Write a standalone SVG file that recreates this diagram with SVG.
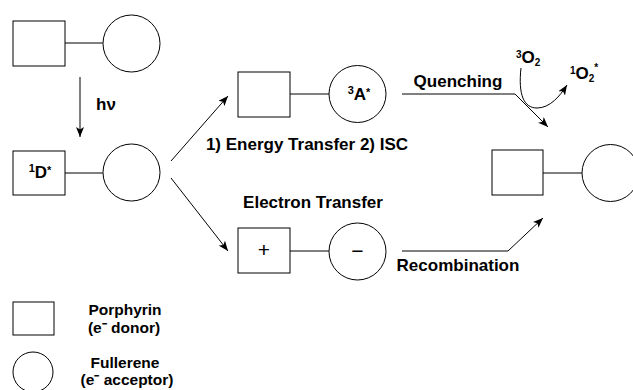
<svg xmlns="http://www.w3.org/2000/svg" width="633" height="390" viewBox="0 0 633 390">
<style>
.sh{fill:#fff;stroke:#000;stroke-width:1}
.ln{fill:none;stroke:#000;stroke-width:1}
.ar{fill:none;stroke:#000;stroke-width:1;marker-end:url(#ah)}
.t{font-family:"Liberation Sans",Arial,sans-serif;font-weight:bold;font-size:17px;fill:#000}
.lg{font-family:"Liberation Sans",Arial,sans-serif;font-weight:bold;font-size:15.5px;fill:#000}
.sg{font-family:"Liberation Sans",Arial,sans-serif;font-weight:normal;font-size:21px;fill:#000}
</style>
<defs>
<marker id="ah" viewBox="0 0 10 8" refX="10" refY="4" markerWidth="10" markerHeight="8" markerUnits="userSpaceOnUse" orient="auto">
<path d="M0,0 L10,4 L0,8 L2.5,4 z" fill="#000"/>
</marker>
</defs>
<rect width="633" height="390" fill="#fff"/>

<g id="ground">
<rect class="sh" x="13" y="21" width="52" height="45"/>
<line class="ln" x1="65" y1="43" x2="103" y2="43"/>
<circle class="sh" cx="131.5" cy="43.5" r="28.5"/>
</g>

<g id="excited">
<rect class="sh" x="13" y="151" width="52" height="44"/>
<line class="ln" x1="65" y1="173" x2="103" y2="173"/>
<circle class="sh" cx="131.5" cy="172.5" r="28.5"/>
<text class="t" x="40" y="178" text-anchor="middle" font-size="19"><tspan font-size="11" dy="-6">1</tspan><tspan dy="6">D</tspan><tspan font-size="11" dy="-4">*</tspan></text>
</g>

<g id="triplet">
<rect class="sh" x="238" y="72" width="52" height="45"/>
<line class="ln" x1="290" y1="94" x2="329" y2="94"/>
<circle class="sh" cx="357.5" cy="94" r="28.5"/>
<text class="t" x="359" y="100" text-anchor="middle" font-size="18"><tspan font-size="11" dy="-6">3</tspan><tspan dy="6">A</tspan><tspan font-size="11" dy="-4">*</tspan></text>
</g>

<g id="chargesep">
<rect class="sh" x="238" y="228" width="52" height="45"/>
<line class="ln" x1="290" y1="251" x2="329" y2="251"/>
<circle class="sh" cx="357.5" cy="251.5" r="28.5"/>
<text class="sg" x="264" y="257" text-anchor="middle">+</text>
<text class="sg" x="357.5" y="258" text-anchor="middle">−</text>
</g>

<g id="final">
<rect class="sh" x="492" y="150" width="51" height="45"/>
<line class="ln" x1="543" y1="173" x2="582" y2="173"/>
<circle class="sh" cx="610.5" cy="173" r="28.5"/>
</g>

<g id="legend">
<rect class="sh" x="13" y="302" width="41" height="33"/>
<text class="lg" x="125" y="315" text-anchor="middle">Porphyrin</text>
<text class="lg" x="124" y="333" text-anchor="middle">(e⁻ donor)</text>
<circle class="sh" cx="33" cy="372" r="20"/>
<text class="lg" x="125" y="368" text-anchor="middle">Fullerene</text>
<text class="lg" x="127" y="385" text-anchor="middle">(e⁻ acceptor)</text>
</g>

<g id="connectors">
<line class="ar" x1="80" y1="77" x2="80" y2="137"/>
<line class="ar" x1="171" y1="161" x2="228" y2="96"/>
<line class="ar" x1="171" y1="178" x2="228" y2="251"/>
<path class="ar" d="M402,94 L515,94 L548,127"/>
<path class="ar" d="M402,251 L508,251 L543,218"/>
<path class="ar" d="M521,68 C518,95 524,108 537,108 C550,108 560,96 567,85"/>
</g>

<g id="labels">
<text class="t" x="96" y="110">hν</text>
<text class="t" x="458" y="87" text-anchor="middle">Quenching</text>
<text class="t" x="307" y="150" text-anchor="middle">1) Energy Transfer 2) ISC</text>
<text class="t" x="313" y="208" text-anchor="middle">Electron Transfer</text>
<text class="t" x="458" y="271" text-anchor="middle">Recombination</text>
<text class="t" x="516" y="63" font-size="15"><tspan font-size="10" dy="-5">3</tspan><tspan dy="5">O</tspan><tspan font-size="10" dy="3">2</tspan></text>
<text class="t" x="570" y="79" font-size="15"><tspan font-size="10" dy="-5">1</tspan><tspan dy="5">O</tspan><tspan font-size="10" dy="3">2</tspan><tspan font-size="10" dy="-11">*</tspan></text>
</g>
</svg>
